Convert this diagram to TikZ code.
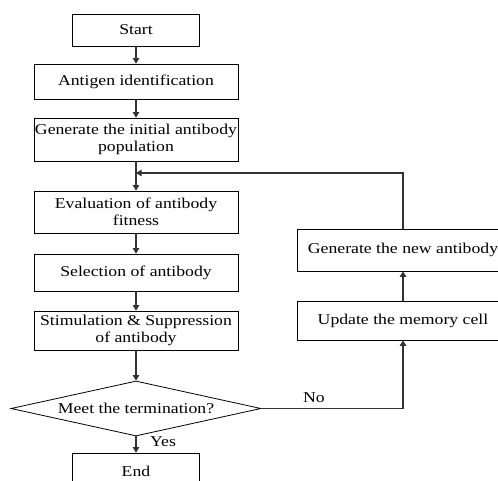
\documentclass[tikz,border=0pt]{standalone}
\usepackage{fontspec}
\setmainfont{Liberation Serif}[FakeStretch=1.18]
\usetikzlibrary{shapes.geometric,arrows.meta}

\begin{document}
\begin{tikzpicture}[
		x=1pt, y=-1pt,
		every node/.style={font=\fontsize{15}{17.5}\selectfont},
		box/.style={rectangle, draw, line width=0.8pt, minimum width=204pt, align=center, inner sep=1pt},
		decide/.style={diamond, draw, line width=0.8pt, minimum width=250pt, minimum height=55pt, shape aspect=4.5, inner sep=0pt},
		arr/.style={-{Triangle[length=5.5pt, width=6.5pt]}, line width=1.1pt, draw=black!80},
		lbl/.style={inner sep=0pt, anchor=west}
	]
  \useasboundingbox (0,0) rectangle (498,481);
  \node (start) [box, minimum width=127pt, minimum height=32pt] at (136,30) {Start};
  \node (antigen) [box, minimum height=35pt] at (136,81.5) {Antigen identification};
  \node (init) [box, minimum height=43pt] at (136,139.5) {Generate the initial antibody\\population};
  \node (eval) [box, minimum height=42pt] at (136,212) {Evaluation of antibody\\fitness};
  \node (select) [box, minimum height=37pt] at (136,272.5) {Selection of antibody};
  \node (stim) [box, minimum height=39pt] at (136,330.5) {Stimulation \& Suppression\\of antibody};
  \node (term) [decide] at (136,408.5) {Meet the termination?};
  \node (stop) [box, minimum width=127pt, minimum height=36pt] at (136,471) {End};
  \node (update) [box, minimum width=212pt, minimum height=39pt] at (403,320.5) {Update the memory cell};
  \node (newab) [box, minimum width=212pt, minimum height=42pt] at (403,250) {Generate the new antibody};
  \coordinate (fb) at (136,173);
  \node (yes) [lbl] at (150,442) {Yes};
  \node (no) [lbl] at (303,398) {No};
  \draw (start) edge [arr] (antigen);
  \draw (antigen) edge [arr] (init);
  \draw (init) edge [arr] (eval);
  \draw (eval) edge [arr] (select);
  \draw (select) edge [arr] (stim);
  \draw (stim) edge [arr] (term);
  \draw (term) edge [arr] (stop);
  \draw [arr] (term.east) -| (update.south);
  \draw (update) edge [arr] (newab);
  \draw [arr] (newab.north) |- (fb);
\end{tikzpicture}
\end{document}
